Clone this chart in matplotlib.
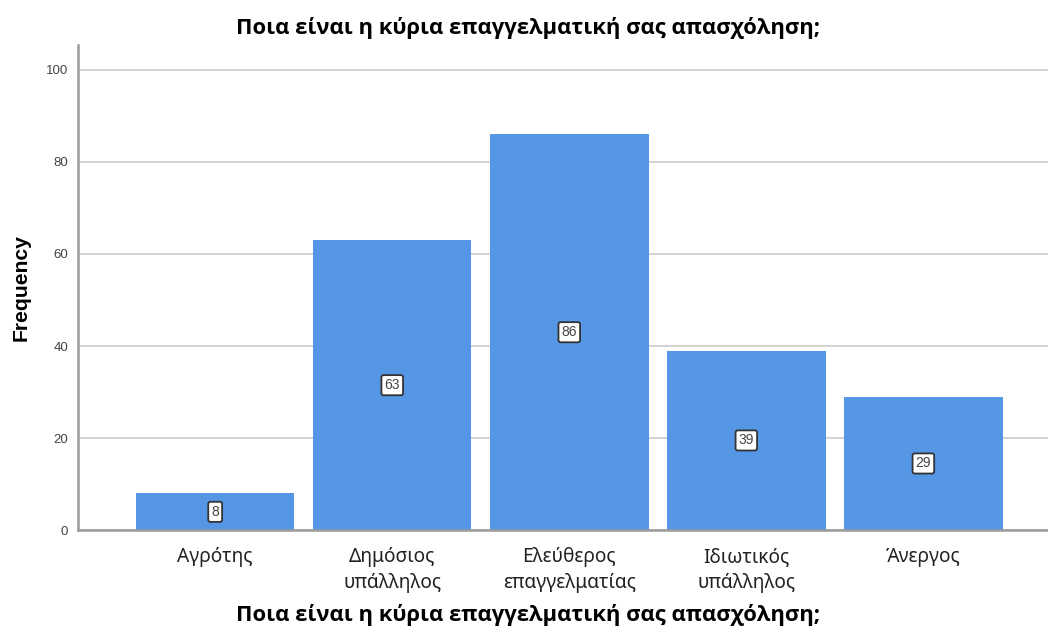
import numpy as np
import matplotlib
matplotlib.use('Agg')
import matplotlib.pyplot as plt

#==============================================================================
# Data
#==============================================================================
categories = ['Αγρότης', 'Δημόσιος\nυπάλληλος', 'Ελεύθερος\nεπαγγελματίας',
              'Ιδιωτικός\nυπάλληλος', 'Άνεργος']
counts = [8, 63, 86, 39, 29]
yticks = [0, 20, 40, 60, 80, 100]
title = 'Ποια είναι η κύρια επαγγελματική σας απασχόληση;'

#==============================================================================
# Plot
#==============================================================================
fig = plt.figure(figsize=(10.48, 6.32), dpi=100)
ax = fig.add_axes([0.0744, 0.161, 0.93, 0.768])

x = np.arange(len(categories))
bars = ax.bar(x, counts, width=0.895, color='#5596e5', zorder=2)

for xi, c in zip(x, counts):
    ax.text(xi, c / 2, str(c), ha='center', va='center', fontsize=10,
            family='Liberation Sans', color='#444444', zorder=3,
            bbox=dict(boxstyle='round,pad=0.22,rounding_size=0.15', fc='white',
                      ec='#333333', lw=1.3))

ax.set_xlim(-0.775, 4.73)
ax.set_ylim(0, 105.4)
ax.set_yticks(yticks)
ax.set_xticks(x)
ax.set_xticklabels(categories, family='Noto Sans', fontsize=13.8, color='#222222',
                   linespacing=1.4)
ax.tick_params(axis='both', length=0)
ax.tick_params(axis='x', pad=12)
ax.tick_params(axis='y', pad=7, labelsize=9.5, labelcolor='#444444')
for lbl in ax.get_yticklabels():
    lbl.set_family('Liberation Sans')

ax.grid(axis='y', color='#d4d4d4', lw=1.5, zorder=1)
ax.spines['top'].set_visible(False)
ax.spines['right'].set_visible(False)
for s in ['left', 'bottom']:
    ax.spines[s].set_color('#9a9a9a')
    ax.spines[s].set_linewidth(1.8)
ax.spines['left'].set_bounds(0, 105.4)

ax.set_ylabel('Frequency', family='Liberation Sans', fontweight='bold',
              fontsize=15.2, labelpad=11)

# title above and axis title below, both centred on the same point
fig.text(0.504, 0.955, title, ha='center', va='center', family='Open Sans',
         fontweight='bold', fontsize=15.8)
fig.text(0.504, 0.027, title, ha='center', va='center', family='Open Sans',
         fontweight='bold', fontsize=15.8)

plt.savefig('out.png', dpi=100)
